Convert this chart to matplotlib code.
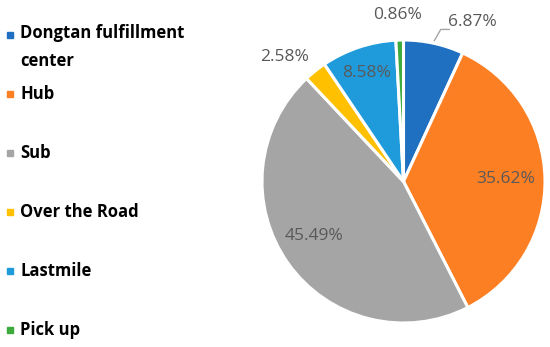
import numpy as np
import matplotlib

matplotlib.use("Agg")
import matplotlib.pyplot as plt

categories = ["Dongtan fulfillment\ncenter", "Hub", "Sub", "Over the Road", "Lastmile", "Pick up"]
shares = [6.87, 35.62, 45.49, 2.58, 8.58, 0.86]
colors = ["#1F70C1", "#FD7F23", "#A5A5A5", "#FFC000", "#1F9BDB", "#3CAA3C"]

# label placement: radial distance (pie radius = 1) and angle nudge in degrees
label_radius = [1.23, 0.72, 0.74, 1.22, 0.81, 1.18]
label_nudge = [-11, 0, -4, 5, 0, 0.6]

W, H = 550, 347
fig = plt.figure(figsize=(W / 100, H / 100), dpi=100)
fig.patch.set_facecolor("white")

cx, cy, R = 403.5, 165.5, 141.5
ax = fig.add_axes([(cx - R) / W, (cy - R) / H, 2 * R / W, 2 * R / H])
wedges, _ = ax.pie(
    shares,
    colors=colors,
    startangle=90,
    counterclock=False,
    radius=1,
    wedgeprops={"edgecolor": "white", "linewidth": 2.2},
)
ax.set_xlim(-1, 1)
ax.set_ylim(-1, 1)
ax.set_aspect("equal")
ax.axis("off")

label_font = "Open Sans"
for i, (w, val) in enumerate(zip(wedges, shares)):
    mid = np.deg2rad((w.theta1 + w.theta2) / 2 + label_nudge[i])
    r = label_radius[i]
    ax.text(
        r * np.cos(mid), r * np.sin(mid), f"{val:.2f}%",
        ha="center", va="center", fontsize=12.5, color="#595959",
        family=label_font, clip_on=False,
    )

# leader line for the first slice
w = wedges[0]
mid = np.deg2rad((w.theta1 + w.theta2) / 2)
p0 = (1.02 * np.cos(mid), 1.02 * np.sin(mid))
p1 = (1.09 * np.cos(mid) + 0.03, 1.09 * np.sin(mid) + 0.01)
p2 = (p1[0] + 0.06, p1[1])
ax.plot([p0[0], p1[0], p2[0]], [p0[1], p1[1], p2[1]], color="#A6A6A6",
        linewidth=1, clip_on=False)

# legend drawn as a vertical list at the left
legend_y = [35, 94, 153, 212, 271, 330]
for name, col, y in zip(categories, colors, legend_y):
    fig.patches.append(plt.Rectangle((7 / W, 1 - (y + 3) / H), 6 / W, 6 / H,
                                     transform=fig.transFigure, color=col))
    multi = "\n" in name
    fig.text(20 / W, 1 - (y - 11) / H if multi else 1 - y / H, name, ha="left",
             va="top" if multi else "center",
             fontsize=12, fontweight="bold", color="black", family=label_font,
             linespacing=1.7)

fig.savefig("out.png", dpi=100, facecolor="white")
